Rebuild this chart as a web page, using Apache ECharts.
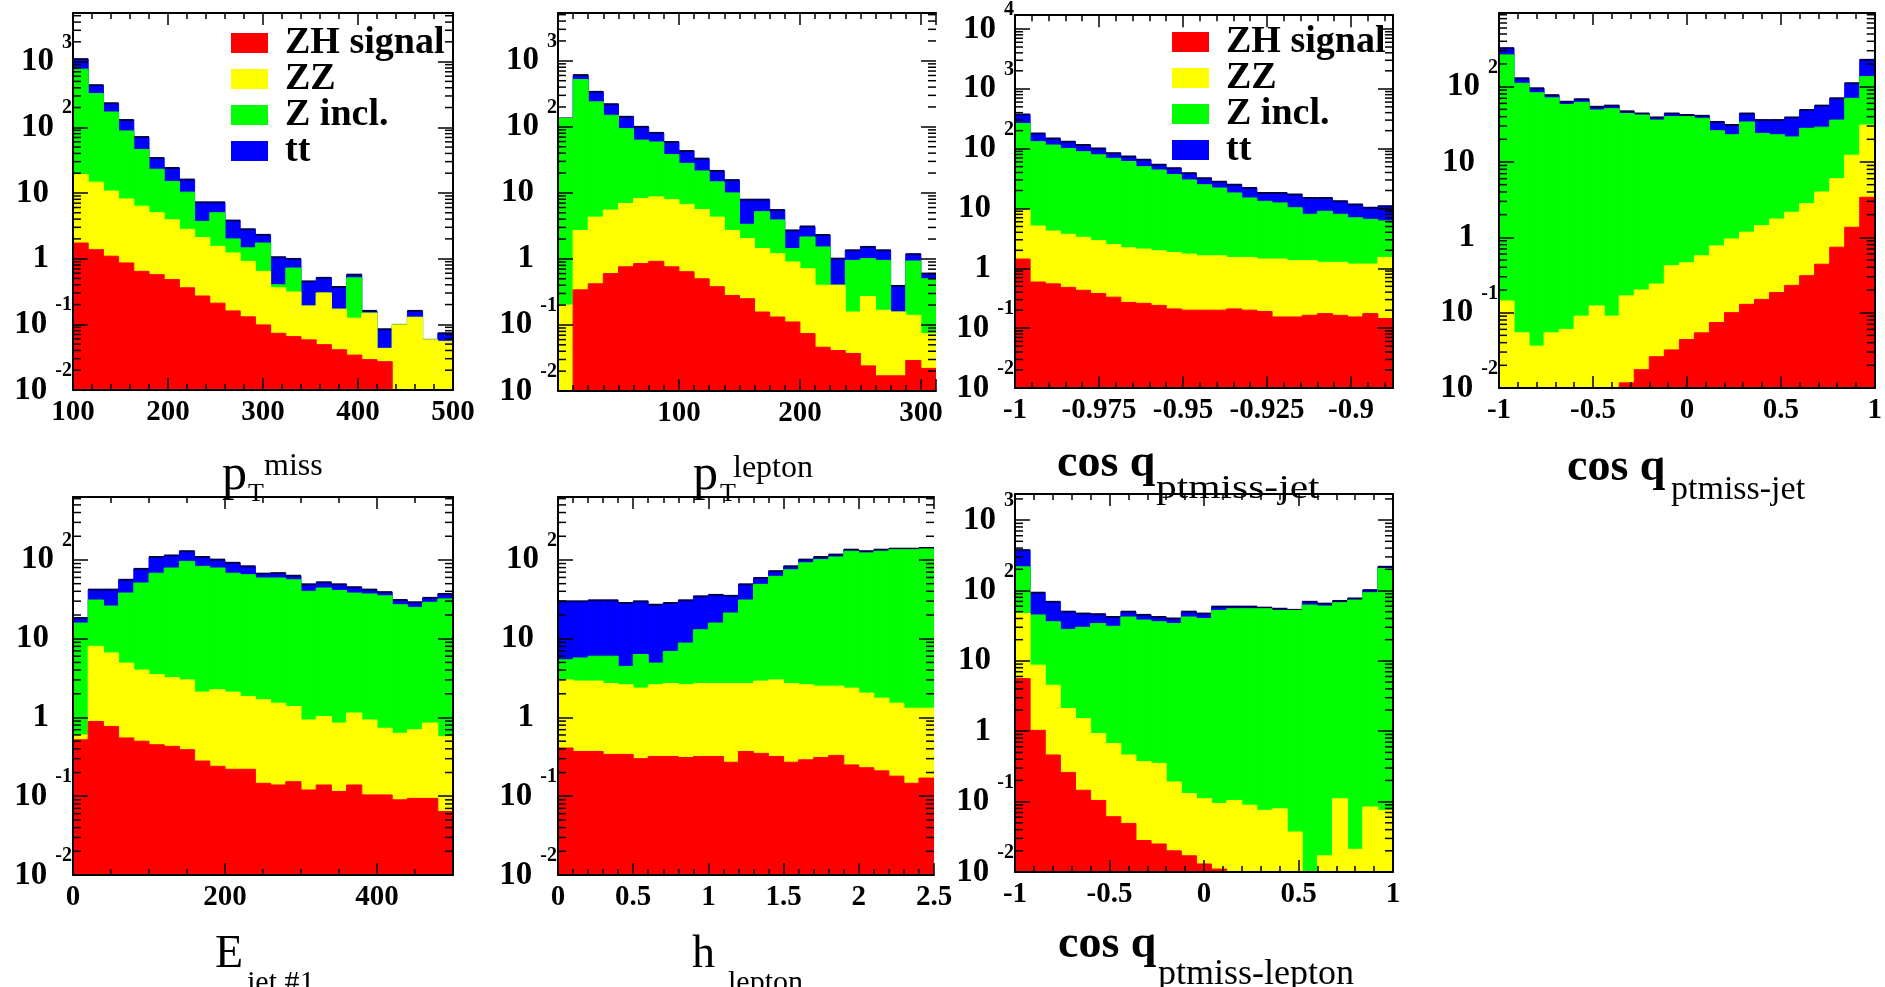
<!DOCTYPE html>
<html>
<head>
<meta charset="utf-8">
<title>ZH selection variables</title>
<script src="https://cdn.jsdelivr.net/npm/echarts@6/dist/echarts.min.js"></script>
<style>
  html, body { margin: 0; padding: 0; background: #fff; }
  #chart { width: 1885px; height: 987px; }
</style>
</head>
<body>
<div id="chart"></div>
<script>
// Stacked histograms: every array holds the drawn top of that layer
// (ZH on the bottom, then ZZ, Z incl., tt on top).

// p_T miss, 100..500
const ptMissTT    = [1090, 437, 232, 129, 71, 34, 24, 16, 7.2, 7.2, 3.8, 2.8, 2.3, 1.05, 0.99, 0.45, 0.51, 0.37, 0.57, 0.16, 0.084, 0.098, 0.16, 0.058, 0.073]
const ptMissZincl = [768, 326, 171, 88, 46, 23, 15, 10.3, 3.7, 5.0, 2.0, 1.46, 1.73, 0.40, 0.72, 0.19, 0.30, 0.17, 0.51, 0.148, 0.043, 0.098, 0.128, 0.058, 0.055]
const ptMissZZ    = [19.1, 14.6, 10.7, 8.1, 6.3, 5.0, 3.9, 2.8, 2.1, 1.54, 1.22, 0.91, 0.64, 0.36, 0.31, 0.19, 0.30, 0.17, 0.124, 0.148, 0.043, 0.098, 0.128, 0.058, 0.055]
const ptMissZH    = [1.73, 1.37, 1.09, 0.86, 0.64, 0.57, 0.48, 0.36, 0.27, 0.21, 0.16, 0.13, 0.098, 0.073, 0.065, 0.058, 0.049, 0.041, 0.034, 0.029, 0.027, 0.009, 0.009, 0.009, 0.009]

// p_T lepton, 0..312.5
const ptLepTT    = [134, 607, 339, 220, 142, 100, 81, 59, 43, 33, 21.5, 15.6, 7.9, 7.9, 5.5, 2.7, 3.1, 2.3, 1.01, 1.35, 1.52, 1.35, 0.39, 1.18, 0.60]
const ptLepZincl = [134, 521, 239, 150, 94, 63, 59, 38, 28, 21.5, 14.7, 10, 3.35, 5.2, 3.9, 1.44, 2.15, 1.52, 0.40, 0.95, 1.01, 0.95, 0.157, 0.93, 0.50]
const ptLepZZ    = [0.20, 2.7, 4.3, 5.5, 6.9, 8.2, 8.7, 7.9, 6.7, 5.6, 4.3, 2.7, 2.03, 1.44, 1.2, 0.90, 0.71, 0.40, 0.40, 0.157, 0.27, 0.167, 0.157, 0.14, 0.074]
const ptLepZH    = [0.005, 0.34, 0.42, 0.60, 0.76, 0.85, 0.92, 0.76, 0.64, 0.50, 0.38, 0.28, 0.25, 0.157, 0.132, 0.111, 0.074, 0.046, 0.041, 0.037, 0.024, 0.017, 0.017, 0.029, 0.022]

// cos theta ptmiss-jet, close to -1
const cosFwdTT    = [371, 179, 148, 131, 115, 101, 84, 74, 65, 54, 47, 39, 32, 28, 25, 22, 18.2, 18.2, 17.1, 15, 15, 13.2, 11.7, 10.3, 10.9]
const cosFwdZincl = [263, 131, 115, 101, 89, 79, 69, 61, 50, 44, 37, 30, 25, 22, 18.2, 15, 13.2, 12.4, 10.3, 8.0, 9.0, 8.0, 7.0, 6.6, 6.2]
const cosFwdZZ    = [9.6, 5.1, 4.2, 3.7, 3.3, 2.9, 2.5, 2.2, 2.1, 1.96, 1.84, 1.73, 1.62, 1.62, 1.52, 1.52, 1.43, 1.43, 1.34, 1.34, 1.26, 1.26, 1.18, 1.18, 1.52]
const cosFwdZH    = [1.43, 0.59, 0.55, 0.48, 0.43, 0.38, 0.33, 0.27, 0.26, 0.24, 0.21, 0.20, 0.20, 0.20, 0.21, 0.20, 0.19, 0.154, 0.154, 0.164, 0.175, 0.164, 0.154, 0.175, 0.145]

// cos theta ptmiss-jet, -1..1
const cosJetTT    = [324, 129, 95, 77, 63, 68, 54, 56, 47, 44, 39, 44, 42, 41, 34, 31, 44, 36, 36, 39, 49, 56, 70, 111, 227]
const cosJetZincl = [264, 111, 83, 71, 58, 62, 49, 51, 44, 42, 36, 40, 40, 38, 26, 23, 34, 24, 23, 21.5, 28, 29, 36, 70, 136]
const cosJetZZ    = [0.143, 0.054, 0.036, 0.054, 0.060, 0.090, 0.123, 0.090, 0.167, 0.20, 0.24, 0.42, 0.46, 0.57, 0.77, 0.95, 1.17, 1.43, 1.75, 2.15, 2.8, 4.0, 6.0, 12.3, 31]
const cosJetZH    = [0.005, 0.005, 0.005, 0.005, 0.005, 0.005, 0.005, 0.005, 0.0117, 0.0175, 0.026, 0.032, 0.044, 0.054, 0.074, 0.1, 0.129, 0.15, 0.185, 0.23, 0.31, 0.44, 0.74, 1.36, 3.4]

// E jet #1, 0..500
const eJetTT    = [18.3, 42, 42, 56, 77, 109, 114, 129, 109, 101, 92, 83, 67, 68, 63, 49, 52, 49, 45, 42, 39, 31, 29, 33, 37]
const eJetZincl = [15.8, 31, 26, 38, 51, 68, 79, 96, 83, 79, 68, 65, 59, 59, 56, 40, 44, 41, 38, 37, 35, 27, 25, 29, 32]
const eJetZZ    = [0.6, 8.0, 6.6, 4.9, 4.0, 3.5, 3.2, 3.0, 2.1, 2.25, 2.1, 1.85, 1.68, 1.52, 1.38, 0.93, 1.03, 0.85, 1.14, 0.93, 0.73, 0.63, 0.70, 0.85, 0.57]
const eJetZH    = [0.52, 0.89, 0.77, 0.55, 0.50, 0.45, 0.43, 0.39, 0.28, 0.24, 0.22, 0.22, 0.146, 0.139, 0.153, 0.12, 0.139, 0.115, 0.139, 0.104, 0.104, 0.090, 0.094, 0.094, 0.064]

// eta lepton, 0..2.5
const etaLepTT    = [29.8, 29.8, 30.7, 30.7, 28.4, 29.8, 27, 28.4, 30.7, 34.5, 36, 35, 49, 59, 72, 83, 101, 109, 117, 135, 129, 135, 139, 139, 142]
const etaLepZincl = [5.4, 5.7, 6.0, 6.0, 4.45, 6.3, 4.9, 6.9, 8.8, 13.0, 15.8, 21.2, 31, 49, 62, 75, 92, 101, 109, 129, 123, 129, 135, 135, 138]
const etaLepZZ    = [3.0, 2.9, 2.9, 2.7, 2.6, 2.36, 2.6, 2.7, 2.6, 2.7, 2.7, 2.7, 2.7, 2.9, 3.0, 2.7, 2.6, 2.5, 2.5, 2.36, 2.04, 1.76, 1.52, 1.31, 1.31]
const etaLepZH    = [0.41, 0.37, 0.37, 0.34, 0.34, 0.30, 0.32, 0.32, 0.31, 0.32, 0.32, 0.27, 0.37, 0.35, 0.32, 0.27, 0.29, 0.31, 0.33, 0.25, 0.23, 0.21, 0.18, 0.146, 0.17]

// cos theta ptmiss-lepton, -1..1
const cosLepTT    = [374, 93, 69, 50, 47, 46, 42, 50, 45, 42, 40, 50, 47, 59, 59, 59, 57, 55, 53, 69, 65, 71, 77, 101, 217]
const cosLepZincl = [217, 45, 36, 28, 30, 34, 31, 42, 38, 36, 34, 42, 40, 52, 55, 55, 55, 52, 52, 62, 60, 67, 73, 93, 205]
const cosLepZZ    = [47, 8.7, 4.5, 2.1, 1.51, 0.93, 0.67, 0.46, 0.37, 0.35, 0.19, 0.13, 0.11, 0.094, 0.104, 0.089, 0.075, 0.079, 0.037, 0.008, 0.017, 0.11, 0.021, 0.084, 0.075]
const cosLepZH    = [5.6, 1.03, 0.46, 0.26, 0.145, 0.104, 0.061, 0.049, 0.028, 0.025, 0.020, 0.017, 0.013, 0.011, 0.005, 0.005, 0.005, 0.005, 0.005, 0.005, 0.005, 0.005, 0.005, 0.005, 0.005]

const legendNames = ['ZH signal', 'ZZ', 'Z incl.', 'tt']
const legendColors = ['#ff0000', '#ffff00', '#00ff00', '#0000ff']

// axis titles, pieces placed like the ROOT latex output
const titleParts = [
  { text: 'p', x: 222, y: 476, size: 50 }, { text: 'T', x: 248, y: 494, size: 26 }, { text: 'miss', x: 264, y: 467, size: 32 },
  { text: 'p', x: 693, y: 476, size: 50 }, { text: 'T', x: 720, y: 494, size: 26 }, { text: 'lepton', x: 733, y: 469, size: 32 },
  { text: 'cos q', x: 1057, y: 464, size: 46, bold: true }, { text: 'ptmiss-jet', x: 1156, y: 489, size: 34, sx: 1.22 },
  { text: 'cos q', x: 1567, y: 468, size: 46, bold: true }, { text: 'ptmiss-jet', x: 1671, y: 490, size: 34 },
  { text: 'E', x: 215, y: 955, size: 46 }, { text: 'jet #1', x: 247, y: 983, size: 30 },
  { text: 'h', x: 692, y: 955, size: 46 }, { text: 'lepton', x: 728, y: 983, size: 30 },
  { text: 'cos q', x: 1058, y: 945, size: 46, bold: true }, { text: 'ptmiss-lepton', x: 1158, y: 975, size: 36 }
]

const SERIF = '"Liberation Serif", "Times New Roman", serif'
const Y_MIN = 0.01
const BLACK = '#000'

const panels = [
  { box: [73, 13, 380, 377],   lo: 100, hi: 500,     step: 100,   minor: 5, yMax: 5500,  hide0: false, rightLine: true,
    layers: [ptMissTT, ptMissZincl, ptMissZZ, ptMissZH] },
  { box: [558, 13, 378, 378],  lo: 0,   hi: 312.5,   step: 100,   minor: 8, yMax: 5300,  hide0: true,  rightLine: false,
    layers: [ptLepTT, ptLepZincl, ptLepZZ, ptLepZH] },
  { box: [1015, 12, 378, 376], lo: -1,  hi: -0.8875, step: 0.025, minor: 5, yMax: 17000, hide0: false, rightLine: true,
    layers: [cosFwdTT, cosFwdZincl, cosFwdZZ, cosFwdZH] },
  { box: [1499, 13, 378, 375], lo: -1,  hi: 1,       step: 0.5,   minor: 5, yMax: 950,   hide0: false, rightLine: true,
    layers: [cosJetTT, cosJetZincl, cosJetZZ, cosJetZH] },
  { box: [73, 497, 380, 378],  lo: 0,   hi: 500,     step: 200,   minor: 4, yMax: 630,   hide0: false, rightLine: true,
    layers: [eJetTT, eJetZincl, eJetZZ, eJetZH] },
  { box: [558, 497, 376, 378], lo: 0,   hi: 2.5,     step: 0.5,   minor: 5, yMax: 630,   hide0: false, rightLine: false,
    layers: [etaLepTT, etaLepZincl, etaLepZZ, etaLepZH] },
  { box: [1015, 494, 378, 378], lo: -1, hi: 1,       step: 0.5,   minor: 5, yMax: 2350,  hide0: false, rightLine: true,
    layers: [cosLepTT, cosLepZincl, cosLepZZ, cosLepZH] }
]

// drawn back to front: tt first, ZH last
const drawOrder = [
  { name: 'tt', color: '#0000ff', outline: true },
  { name: 'Z incl.', color: '#00ff00' },
  { name: 'ZZ', color: '#ffff00' },
  { name: 'ZH signal', color: '#ff0000' }
]

function decadeLabel(v) {
  const e = Math.log10(v)
  const k = Math.round(e)
  if (Math.abs(e - k) > 1e-6) return ''
  if (k === 0) return '{b|1}{s|\u00a0}'
  if (k === 1) return '{b|10}{s|\u00a0}'
  return '{b|10}{e|' + k + '}'
}

function xLabel(p) {
  return function (v) {
    const q = (v - p.lo) / p.step
    if (Math.abs(q - Math.round(q)) > 1e-6) return ''
    if (p.hide0 && Math.abs(v) < 1e-9) return ''
    return String(+v.toFixed(4))
  }
}

const tickLine = { color: BLACK, width: 1.5 }
const frameLine = { color: BLACK, width: 2 }

const grids = [], xAxes = [], yAxes = [], series = []

panels.forEach(function (p, i) {
  grids.push({ left: p.box[0], top: p.box[1], width: p.box[2], height: p.box[3] })

  const xBase = {
    gridIndex: i, type: 'value', min: p.lo, max: p.hi, interval: p.step, z: 10,
    splitLine: { show: false },
    axisLine: { show: true, onZero: false, lineStyle: frameLine },
    axisTick: { show: true, inside: true, length: 12, lineStyle: tickLine },
    minorTick: { show: true, splitNumber: p.minor, length: 6, lineStyle: tickLine }
  }
  xAxes.push(Object.assign({}, xBase, {
    position: 'bottom',
    axisLabel: { margin: 8, fontFamily: SERIF, fontWeight: 'bold', fontSize: 29, color: BLACK,
                 showMinLabel: true, showMaxLabel: true, hideOverlap: false, formatter: xLabel(p) }
  }))
  xAxes.push(Object.assign({}, xBase, { position: 'top', axisLabel: { show: false } }))

  const yBase = {
    gridIndex: i, type: 'log', logBase: 10, min: Y_MIN, max: p.yMax, z: 10,
    splitLine: { show: false },
    axisTick: { show: true, inside: true, length: 15, lineStyle: tickLine },
    minorTick: { show: false }
  }
  yAxes.push(Object.assign({}, yBase, {
    position: 'left',
    axisLine: { show: true, onZero: false, lineStyle: frameLine },
    axisLabel: {
      margin: 1, formatter: decadeLabel, showMinLabel: true, showMaxLabel: true, hideOverlap: false,
      rich: {
        b: { fontFamily: SERIF, fontWeight: 'bold', fontSize: 33, lineHeight: 33, padding: [8, 0, 8, 0], color: BLACK },
        e: { fontFamily: SERIF, fontWeight: 'bold', fontSize: 20, lineHeight: 11, padding: [0, 0, 38, 8], color: BLACK },
        s: { fontFamily: SERIF, fontSize: 33, lineHeight: 33, padding: [8, 0, 8, 0], width: 23 }
      }
    }
  }))
  yAxes.push(Object.assign({}, yBase, {
    position: 'right',
    axisLine: { show: p.rightLine, onZero: false, lineStyle: frameLine },
    axisLabel: { show: false }
  }))

  const n = p.layers[0].length
  const binW = (p.hi - p.lo) / n

  drawOrder.forEach(function (layer, li) {
    const vals = p.layers[li]
    series.push({
      type: 'custom', name: layer.name,
      xAxisIndex: 2 * i, yAxisIndex: 2 * i,
      clip: true, silent: true, z: 2,
      itemStyle: { color: layer.color },
      encode: { x: [0, 1], y: 2 },
      data: vals.map(function (v, b) { return [p.lo + b * binW, p.lo + (b + 1) * binW, v] }),
      renderItem: function (params, api) {
        const v = api.value(2)
        if (!(v > Y_MIN)) return null
        const a = api.coord([api.value(0), v])
        const c = api.coord([api.value(1), Y_MIN])
        const kids = [{
          type: 'rect',
          shape: { x: a[0], y: a[1], width: c[0] - a[0], height: c[1] - a[1] },
          style: { fill: layer.color, stroke: layer.color, lineWidth: 1 }
        }]
        if (layer.outline) {
          kids.push({ type: 'line', shape: { x1: a[0], y1: a[1], x2: c[0], y2: a[1] },
                      style: { stroke: '#000050', lineWidth: 2 } })
        }
        return { type: 'group', children: kids }
      }
    })
  })

  // ROOT style log minor ticks (2..9 per decade) on both vertical sides
  const minorVals = []
  for (let k = -2; Math.pow(10, k) < p.yMax; k++) {
    for (let m = 2; m <= 9; m++) {
      const v = m * Math.pow(10, k)
      if (v < p.yMax) minorVals.push([p.lo, v])
    }
  }
  series.push({
    type: 'custom', xAxisIndex: 2 * i, yAxisIndex: 2 * i,
    silent: true, z: 5, clip: false,
    encode: { x: 0, y: 1 },
    data: minorVals,
    renderItem: function (params, api) {
      const v = api.value(1)
      const l = api.coord([p.lo, v])
      const r = api.coord([p.hi, v])
      return {
        type: 'group',
        children: [
          { type: 'line', shape: { x1: l[0], y1: l[1], x2: l[0] + 8, y2: l[1] }, style: { stroke: BLACK, lineWidth: 1.5 } },
          { type: 'line', shape: { x1: r[0] - 8, y1: r[1], x2: r[0], y2: r[1] }, style: { stroke: BLACK, lineWidth: 1.5 } }
        ]
      }
    }
  })
})

function legendAt(left, top) {
  return {
    orient: 'vertical', left: left, top: top,
    itemWidth: 37, itemHeight: 20, itemGap: -2, icon: 'rect',
    selectedMode: false, z: 20,
    data: legendNames.map(function (nm, k) { return { name: nm, itemStyle: { color: legendColors[k] } } }),
    textStyle: { fontFamily: SERIF, fontWeight: 'bold', fontSize: 38, color: BLACK, padding: [0, 0, 0, 12] }
  }
}

const chart = echarts.init(document.getElementById('chart'), null, { renderer: 'canvas' })
chart.setOption({
  backgroundColor: '#fff',
  animation: false,
  grid: grids,
  xAxis: xAxes,
  yAxis: yAxes,
  legend: [legendAt(226, 19), legendAt(1167, 18)],
  graphic: titleParts.map(function (t) {
    return {
      type: 'text', x: t.x, y: t.y, z: 100, silent: true, scaleX: t.sx || 1,
      style: { text: t.text, fontFamily: SERIF, fontSize: t.size, fontWeight: t.bold ? 'bold' : 'normal',
               fill: BLACK, verticalAlign: 'middle' }
    }
  }),
  series: series
})
</script>
</body>
</html>
